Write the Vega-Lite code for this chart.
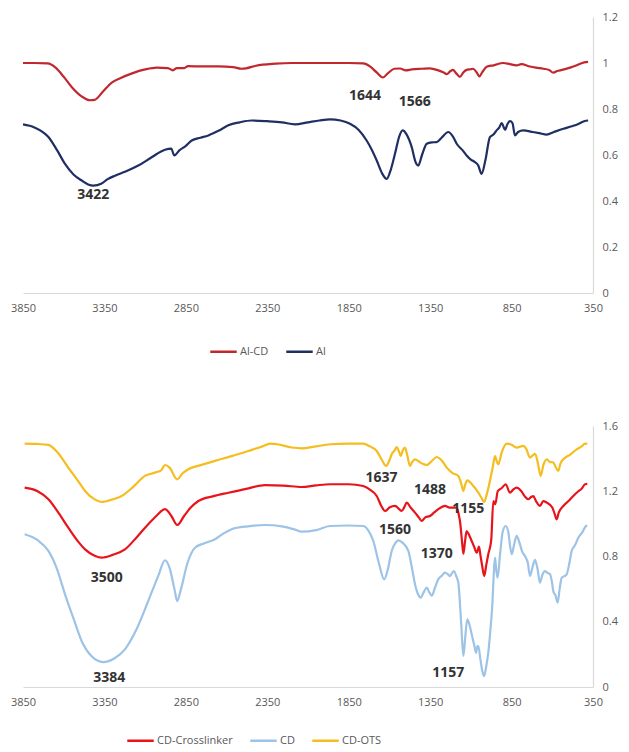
{
  "$schema": "https://vega.github.io/schema/vega-lite/v6.json",
  "background": "white",
  "padding": {"left": 10, "top": 11, "right": 5, "bottom": 5},
  "config": {
    "view": {"stroke": null},
    "font": "Open Sans",
    "axis": {"grid": false, "ticks": false, "domainColor": "#D9D9D9", "domainWidth": 1.2, "labelColor": "#595959", "labelFontSize": 11, "labelFont": "Open Sans", "title": null, "labelFlush": false},
    "legend": {"labelColor": "#595959", "labelFontSize": 11, "labelFont": "Open Sans", "symbolType": "stroke", "symbolSize": 700, "symbolStrokeWidth": 2.5, "columnPadding": 12, "labelOffset": 2}
  },
  "datasets": {
    "top": [
      {"series":"Al-CD","wn":3850,"v":1.0},{"series":"Al-CD","wn":3780,"v":1.0},{"series":"Al-CD","wn":3700,"v":0.998},{"series":"Al-CD","wn":3650,"v":0.98},{"series":"Al-CD","wn":3600,"v":0.94},{"series":"Al-CD","wn":3550,"v":0.895},{"series":"Al-CD","wn":3490,"v":0.855},{"series":"Al-CD","wn":3440,"v":0.838},{"series":"Al-CD","wn":3410,"v":0.84},{"series":"Al-CD","wn":3360,"v":0.875},{"series":"Al-CD","wn":3305,"v":0.915},{"series":"Al-CD","wn":3250,"v":0.935},{"series":"Al-CD","wn":3180,"v":0.955},{"series":"Al-CD","wn":3100,"v":0.972},{"series":"Al-CD","wn":3030,"v":0.98},{"series":"Al-CD","wn":2960,"v":0.978},{"series":"Al-CD","wn":2930,"v":0.968},{"series":"Al-CD","wn":2905,"v":0.978},{"series":"Al-CD","wn":2860,"v":0.978},{"series":"Al-CD","wn":2837,"v":0.986},{"series":"Al-CD","wn":2750,"v":0.985},{"series":"Al-CD","wn":2650,"v":0.985},{"series":"Al-CD","wn":2560,"v":0.982},{"series":"Al-CD","wn":2510,"v":0.975},{"series":"Al-CD","wn":2480,"v":0.977},{"series":"Al-CD","wn":2420,"v":0.988},{"series":"Al-CD","wn":2300,"v":0.997},{"series":"Al-CD","wn":2200,"v":1.0},{"series":"Al-CD","wn":2000,"v":1.0},{"series":"Al-CD","wn":1850,"v":1.0},{"series":"Al-CD","wn":1760,"v":0.998},{"series":"Al-CD","wn":1720,"v":0.985},{"series":"Al-CD","wn":1680,"v":0.96},{"series":"Al-CD","wn":1640,"v":0.937},{"series":"Al-CD","wn":1610,"v":0.955},{"series":"Al-CD","wn":1570,"v":0.975},{"series":"Al-CD","wn":1535,"v":0.976},{"series":"Al-CD","wn":1500,"v":0.968},{"series":"Al-CD","wn":1463,"v":0.972},{"series":"Al-CD","wn":1400,"v":0.975},{"series":"Al-CD","wn":1351,"v":0.977},{"series":"Al-CD","wn":1300,"v":0.968},{"series":"Al-CD","wn":1270,"v":0.96},{"series":"Al-CD","wn":1248,"v":0.952},{"series":"Al-CD","wn":1225,"v":0.965},{"series":"Al-CD","wn":1210,"v":0.97},{"series":"Al-CD","wn":1190,"v":0.955},{"series":"Al-CD","wn":1167,"v":0.94},{"series":"Al-CD","wn":1145,"v":0.96},{"series":"Al-CD","wn":1126,"v":0.97},{"series":"Al-CD","wn":1100,"v":0.973},{"series":"Al-CD","wn":1087,"v":0.975},{"series":"Al-CD","wn":1065,"v":0.96},{"series":"Al-CD","wn":1048,"v":0.942},{"series":"Al-CD","wn":1030,"v":0.96},{"series":"Al-CD","wn":1003,"v":0.984},{"series":"Al-CD","wn":960,"v":0.99},{"series":"Al-CD","wn":901,"v":1.0},{"series":"Al-CD","wn":860,"v":0.995},{"series":"Al-CD","wn":819,"v":0.99},{"series":"Al-CD","wn":790,"v":0.995},{"series":"Al-CD","wn":737,"v":0.985},{"series":"Al-CD","wn":700,"v":0.98},{"series":"Al-CD","wn":655,"v":0.975},{"series":"Al-CD","wn":620,"v":0.97},{"series":"Al-CD","wn":594,"v":0.958},{"series":"Al-CD","wn":570,"v":0.965},{"series":"Al-CD","wn":540,"v":0.97},{"series":"Al-CD","wn":491,"v":0.98},{"series":"Al-CD","wn":450,"v":0.99},{"series":"Al-CD","wn":404,"v":1.003},{"series":"Al-CD","wn":380,"v":1.005},
      {"series":"Al","wn":3850,"v":0.733},{"series":"Al","wn":3780,"v":0.72},{"series":"Al","wn":3694,"v":0.678},{"series":"Al","wn":3640,"v":0.62},{"series":"Al","wn":3592,"v":0.561},{"series":"Al","wn":3540,"v":0.515},{"series":"Al","wn":3490,"v":0.489},{"series":"Al","wn":3450,"v":0.472},{"series":"Al","wn":3418,"v":0.467},{"series":"Al","wn":3370,"v":0.475},{"series":"Al","wn":3330,"v":0.495},{"series":"Al","wn":3285,"v":0.51},{"series":"Al","wn":3220,"v":0.528},{"series":"Al","wn":3142,"v":0.554},{"series":"Al","wn":3060,"v":0.59},{"series":"Al","wn":2978,"v":0.623},{"series":"Al","wn":2940,"v":0.628},{"series":"Al","wn":2921,"v":0.598},{"series":"Al","wn":2890,"v":0.62},{"series":"Al","wn":2850,"v":0.64},{"series":"Al","wn":2814,"v":0.663},{"series":"Al","wn":2760,"v":0.675},{"series":"Al","wn":2712,"v":0.685},{"series":"Al","wn":2650,"v":0.705},{"series":"Al","wn":2589,"v":0.729},{"series":"Al","wn":2520,"v":0.742},{"series":"Al","wn":2446,"v":0.75},{"series":"Al","wn":2350,"v":0.747},{"series":"Al","wn":2260,"v":0.742},{"series":"Al","wn":2180,"v":0.733},{"series":"Al","wn":2100,"v":0.742},{"series":"Al","wn":2030,"v":0.75},{"series":"Al","wn":1965,"v":0.755},{"series":"Al","wn":1900,"v":0.75},{"series":"Al","wn":1842,"v":0.736},{"series":"Al","wn":1790,"v":0.71},{"series":"Al","wn":1740,"v":0.663},{"series":"Al","wn":1710,"v":0.625},{"series":"Al","wn":1678,"v":0.576},{"series":"Al","wn":1645,"v":0.52},{"series":"Al","wn":1617,"v":0.496},{"series":"Al","wn":1590,"v":0.54},{"series":"Al","wn":1566,"v":0.605},{"series":"Al","wn":1540,"v":0.68},{"series":"Al","wn":1519,"v":0.707},{"series":"Al","wn":1495,"v":0.69},{"series":"Al","wn":1463,"v":0.634},{"series":"Al","wn":1440,"v":0.57},{"series":"Al","wn":1423,"v":0.554},{"series":"Al","wn":1400,"v":0.6},{"series":"Al","wn":1371,"v":0.649},{"series":"Al","wn":1340,"v":0.655},{"series":"Al","wn":1310,"v":0.656},{"series":"Al","wn":1280,"v":0.675},{"series":"Al","wn":1239,"v":0.7},{"series":"Al","wn":1210,"v":0.68},{"series":"Al","wn":1187,"v":0.649},{"series":"Al","wn":1150,"v":0.62},{"series":"Al","wn":1126,"v":0.598},{"series":"Al","wn":1100,"v":0.58},{"series":"Al","wn":1075,"v":0.569},{"series":"Al","wn":1055,"v":0.555},{"series":"Al","wn":1034,"v":0.518},{"series":"Al","wn":1010,"v":0.58},{"series":"Al","wn":983,"v":0.678},{"series":"Al","wn":960,"v":0.69},{"series":"Al","wn":942,"v":0.707},{"series":"Al","wn":925,"v":0.72},{"series":"Al","wn":911,"v":0.739},{"series":"Al","wn":890,"v":0.71},{"series":"Al","wn":875,"v":0.735},{"series":"Al","wn":860,"v":0.747},{"series":"Al","wn":845,"v":0.74},{"series":"Al","wn":829,"v":0.685},{"series":"Al","wn":810,"v":0.7},{"series":"Al","wn":778,"v":0.707},{"series":"Al","wn":720,"v":0.7},{"series":"Al","wn":680,"v":0.695},{"series":"Al","wn":634,"v":0.689},{"series":"Al","wn":590,"v":0.7},{"series":"Al","wn":532,"v":0.714},{"series":"Al","wn":480,"v":0.725},{"series":"Al","wn":440,"v":0.735},{"series":"Al","wn":404,"v":0.747},{"series":"Al","wn":380,"v":0.75}
    ],
    "topLabels": [
      {"label":"3422","wn":3418,"v":0.428},
      {"label":"1644","wn":1750,"v":0.855},
      {"label":"1566","wn":1444,"v":0.83}
    ],
    "bottom": [
      {"series":"CD-OTS","wn":3840,"v":1.492},{"series":"CD-OTS","wn":3760,"v":1.49},{"series":"CD-OTS","wn":3694,"v":1.484},{"series":"CD-OTS","wn":3640,"v":1.44},{"series":"CD-OTS","wn":3572,"v":1.345},{"series":"CD-OTS","wn":3510,"v":1.26},{"series":"CD-OTS","wn":3469,"v":1.202},{"series":"CD-OTS","wn":3410,"v":1.15},{"series":"CD-OTS","wn":3367,"v":1.134},{"series":"CD-OTS","wn":3300,"v":1.15},{"series":"CD-OTS","wn":3244,"v":1.171},{"series":"CD-OTS","wn":3170,"v":1.23},{"series":"CD-OTS","wn":3101,"v":1.294},{"series":"CD-OTS","wn":3040,"v":1.314},{"series":"CD-OTS","wn":3000,"v":1.33},{"series":"CD-OTS","wn":2978,"v":1.361},{"series":"CD-OTS","wn":2950,"v":1.345},{"series":"CD-OTS","wn":2903,"v":1.273},{"series":"CD-OTS","wn":2870,"v":1.31},{"series":"CD-OTS","wn":2835,"v":1.335},{"series":"CD-OTS","wn":2760,"v":1.36},{"series":"CD-OTS","wn":2671,"v":1.386},{"series":"CD-OTS","wn":2570,"v":1.415},{"series":"CD-OTS","wn":2467,"v":1.447},{"series":"CD-OTS","wn":2380,"v":1.475},{"series":"CD-OTS","wn":2333,"v":1.492},{"series":"CD-OTS","wn":2290,"v":1.488},{"series":"CD-OTS","wn":2200,"v":1.468},{"series":"CD-OTS","wn":2139,"v":1.463},{"series":"CD-OTS","wn":2050,"v":1.475},{"series":"CD-OTS","wn":1965,"v":1.488},{"series":"CD-OTS","wn":1850,"v":1.492},{"series":"CD-OTS","wn":1761,"v":1.492},{"series":"CD-OTS","wn":1720,"v":1.475},{"series":"CD-OTS","wn":1678,"v":1.447},{"series":"CD-OTS","wn":1645,"v":1.39},{"series":"CD-OTS","wn":1621,"v":1.355},{"series":"CD-OTS","wn":1600,"v":1.39},{"series":"CD-OTS","wn":1586,"v":1.427},{"series":"CD-OTS","wn":1565,"v":1.455},{"series":"CD-OTS","wn":1556,"v":1.471},{"series":"CD-OTS","wn":1540,"v":1.44},{"series":"CD-OTS","wn":1531,"v":1.416},{"series":"CD-OTS","wn":1518,"v":1.45},{"series":"CD-OTS","wn":1505,"v":1.467},{"series":"CD-OTS","wn":1490,"v":1.42},{"series":"CD-OTS","wn":1474,"v":1.355},{"series":"CD-OTS","wn":1460,"v":1.38},{"series":"CD-OTS","wn":1443,"v":1.396},{"series":"CD-OTS","wn":1400,"v":1.37},{"series":"CD-OTS","wn":1371,"v":1.361},{"series":"CD-OTS","wn":1340,"v":1.385},{"series":"CD-OTS","wn":1310,"v":1.41},{"series":"CD-OTS","wn":1280,"v":1.39},{"series":"CD-OTS","wn":1248,"v":1.345},{"series":"CD-OTS","wn":1210,"v":1.31},{"series":"CD-OTS","wn":1177,"v":1.294},{"series":"CD-OTS","wn":1160,"v":1.25},{"series":"CD-OTS","wn":1146,"v":1.202},{"series":"CD-OTS","wn":1135,"v":1.24},{"series":"CD-OTS","wn":1122,"v":1.267},{"series":"CD-OTS","wn":1100,"v":1.25},{"series":"CD-OTS","wn":1085,"v":1.232},{"series":"CD-OTS","wn":1070,"v":1.215},{"series":"CD-OTS","wn":1054,"v":1.191},{"series":"CD-OTS","wn":1035,"v":1.16},{"series":"CD-OTS","wn":1019,"v":1.134},{"series":"CD-OTS","wn":1000,"v":1.19},{"series":"CD-OTS","wn":983,"v":1.263},{"series":"CD-OTS","wn":965,"v":1.35},{"series":"CD-OTS","wn":952,"v":1.416},{"series":"CD-OTS","wn":940,"v":1.38},{"series":"CD-OTS","wn":932,"v":1.365},{"series":"CD-OTS","wn":910,"v":1.44},{"series":"CD-OTS","wn":880,"v":1.492},{"series":"CD-OTS","wn":850,"v":1.485},{"series":"CD-OTS","wn":819,"v":1.467},{"series":"CD-OTS","wn":778,"v":1.478},{"series":"CD-OTS","wn":760,"v":1.46},{"series":"CD-OTS","wn":737,"v":1.406},{"series":"CD-OTS","wn":720,"v":1.42},{"series":"CD-OTS","wn":706,"v":1.43},{"series":"CD-OTS","wn":690,"v":1.38},{"series":"CD-OTS","wn":671,"v":1.294},{"series":"CD-OTS","wn":655,"v":1.36},{"series":"CD-OTS","wn":634,"v":1.396},{"series":"CD-OTS","wn":615,"v":1.38},{"series":"CD-OTS","wn":594,"v":1.376},{"series":"CD-OTS","wn":580,"v":1.35},{"series":"CD-OTS","wn":563,"v":1.325},{"series":"CD-OTS","wn":550,"v":1.37},{"series":"CD-OTS","wn":532,"v":1.396},{"series":"CD-OTS","wn":490,"v":1.425},{"series":"CD-OTS","wn":450,"v":1.457},{"series":"CD-OTS","wn":420,"v":1.475},{"series":"CD-OTS","wn":399,"v":1.492},{"series":"CD-OTS","wn":385,"v":1.49},
      {"series":"CD-Crosslinker","wn":3840,"v":1.222},{"series":"CD-Crosslinker","wn":3760,"v":1.2},{"series":"CD-Crosslinker","wn":3694,"v":1.151},{"series":"CD-Crosslinker","wn":3640,"v":1.08},{"series":"CD-Crosslinker","wn":3572,"v":0.977},{"series":"CD-Crosslinker","wn":3510,"v":0.89},{"series":"CD-Crosslinker","wn":3469,"v":0.844},{"series":"CD-Crosslinker","wn":3410,"v":0.805},{"series":"CD-Crosslinker","wn":3367,"v":0.793},{"series":"CD-Crosslinker","wn":3300,"v":0.81},{"series":"CD-Crosslinker","wn":3224,"v":0.844},{"series":"CD-Crosslinker","wn":3150,"v":0.92},{"series":"CD-Crosslinker","wn":3081,"v":0.998},{"series":"CD-Crosslinker","wn":3030,"v":1.05},{"series":"CD-Crosslinker","wn":2978,"v":1.09},{"series":"CD-Crosslinker","wn":2940,"v":1.05},{"series":"CD-Crosslinker","wn":2903,"v":0.993},{"series":"CD-Crosslinker","wn":2860,"v":1.05},{"series":"CD-Crosslinker","wn":2820,"v":1.1},{"series":"CD-Crosslinker","wn":2773,"v":1.14},{"series":"CD-Crosslinker","wn":2680,"v":1.17},{"series":"CD-Crosslinker","wn":2589,"v":1.191},{"series":"CD-Crosslinker","wn":2480,"v":1.215},{"series":"CD-Crosslinker","wn":2364,"v":1.238},{"series":"CD-Crosslinker","wn":2250,"v":1.235},{"series":"CD-Crosslinker","wn":2139,"v":1.226},{"series":"CD-Crosslinker","wn":2050,"v":1.236},{"series":"CD-Crosslinker","wn":1965,"v":1.243},{"series":"CD-Crosslinker","wn":1850,"v":1.243},{"series":"CD-Crosslinker","wn":1761,"v":1.232},{"series":"CD-Crosslinker","wn":1720,"v":1.21},{"series":"CD-Crosslinker","wn":1678,"v":1.171},{"series":"CD-Crosslinker","wn":1650,"v":1.11},{"series":"CD-Crosslinker","wn":1627,"v":1.079},{"series":"CD-Crosslinker","wn":1600,"v":1.1},{"series":"CD-Crosslinker","wn":1566,"v":1.11},{"series":"CD-Crosslinker","wn":1540,"v":1.09},{"series":"CD-Crosslinker","wn":1525,"v":1.079},{"series":"CD-Crosslinker","wn":1510,"v":1.1},{"series":"CD-Crosslinker","wn":1494,"v":1.13},{"series":"CD-Crosslinker","wn":1470,"v":1.1},{"series":"CD-Crosslinker","wn":1443,"v":1.069},{"series":"CD-Crosslinker","wn":1420,"v":1.04},{"series":"CD-Crosslinker","wn":1402,"v":1.018},{"series":"CD-Crosslinker","wn":1380,"v":1.04},{"series":"CD-Crosslinker","wn":1351,"v":1.048},{"series":"CD-Crosslinker","wn":1325,"v":1.07},{"series":"CD-Crosslinker","wn":1300,"v":1.09},{"series":"CD-Crosslinker","wn":1259,"v":1.11},{"series":"CD-Crosslinker","wn":1230,"v":1.1},{"series":"CD-Crosslinker","wn":1187,"v":1.1},{"series":"CD-Crosslinker","wn":1175,"v":1.06},{"series":"CD-Crosslinker","wn":1167,"v":1.018},{"series":"CD-Crosslinker","wn":1155,"v":0.9},{"series":"CD-Crosslinker","wn":1146,"v":0.817},{"series":"CD-Crosslinker","wn":1135,"v":0.9},{"series":"CD-Crosslinker","wn":1126,"v":0.956},{"series":"CD-Crosslinker","wn":1110,"v":0.93},{"series":"CD-Crosslinker","wn":1095,"v":0.895},{"series":"CD-Crosslinker","wn":1080,"v":0.86},{"series":"CD-Crosslinker","wn":1064,"v":0.823},{"series":"CD-Crosslinker","wn":1050,"v":0.86},{"series":"CD-Crosslinker","wn":1040,"v":0.8},{"series":"CD-Crosslinker","wn":1030,"v":0.74},{"series":"CD-Crosslinker","wn":1018,"v":0.681},{"series":"CD-Crosslinker","wn":1005,"v":0.75},{"series":"CD-Crosslinker","wn":993,"v":0.814},{"series":"CD-Crosslinker","wn":975,"v":0.9},{"series":"CD-Crosslinker","wn":962,"v":1.14},{"series":"CD-Crosslinker","wn":950,"v":1.12},{"series":"CD-Crosslinker","wn":935,"v":1.2},{"series":"CD-Crosslinker","wn":910,"v":1.22},{"series":"CD-Crosslinker","wn":886,"v":1.243},{"series":"CD-Crosslinker","wn":860,"v":1.191},{"series":"CD-Crosslinker","wn":840,"v":1.21},{"series":"CD-Crosslinker","wn":819,"v":1.222},{"series":"CD-Crosslinker","wn":790,"v":1.2},{"series":"CD-Crosslinker","wn":770,"v":1.17},{"series":"CD-Crosslinker","wn":747,"v":1.151},{"series":"CD-Crosslinker","wn":730,"v":1.165},{"series":"CD-Crosslinker","wn":717,"v":1.17},{"series":"CD-Crosslinker","wn":700,"v":1.14},{"series":"CD-Crosslinker","wn":676,"v":1.11},{"series":"CD-Crosslinker","wn":655,"v":1.14},{"series":"CD-Crosslinker","wn":634,"v":1.13},{"series":"CD-Crosslinker","wn":600,"v":1.1},{"series":"CD-Crosslinker","wn":585,"v":1.06},{"series":"CD-Crosslinker","wn":573,"v":1.028},{"series":"CD-Crosslinker","wn":560,"v":1.07},{"series":"CD-Crosslinker","wn":532,"v":1.11},{"series":"CD-Crosslinker","wn":500,"v":1.14},{"series":"CD-Crosslinker","wn":471,"v":1.171},{"series":"CD-Crosslinker","wn":440,"v":1.2},{"series":"CD-Crosslinker","wn":420,"v":1.215},{"series":"CD-Crosslinker","wn":399,"v":1.243},{"series":"CD-Crosslinker","wn":385,"v":1.245},
      {"series":"CD","wn":3840,"v":0.936},{"series":"CD","wn":3760,"v":0.9},{"series":"CD","wn":3694,"v":0.834},{"series":"CD","wn":3640,"v":0.72},{"series":"CD","wn":3592,"v":0.568},{"series":"CD","wn":3540,"v":0.42},{"series":"CD","wn":3490,"v":0.282},{"series":"CD","wn":3430,"v":0.19},{"series":"CD","wn":3357,"v":0.153},{"series":"CD","wn":3290,"v":0.175},{"series":"CD","wn":3224,"v":0.231},{"series":"CD","wn":3150,"v":0.36},{"series":"CD","wn":3081,"v":0.527},{"series":"CD","wn":3020,"v":0.68},{"series":"CD","wn":2978,"v":0.777},{"series":"CD","wn":2950,"v":0.73},{"series":"CD","wn":2920,"v":0.6},{"series":"CD","wn":2903,"v":0.527},{"series":"CD","wn":2880,"v":0.6},{"series":"CD","wn":2840,"v":0.76},{"series":"CD","wn":2794,"v":0.854},{"series":"CD","wn":2740,"v":0.88},{"series":"CD","wn":2671,"v":0.906},{"series":"CD","wn":2620,"v":0.94},{"series":"CD","wn":2569,"v":0.967},{"series":"CD","wn":2470,"v":0.985},{"series":"CD","wn":2364,"v":0.993},{"series":"CD","wn":2260,"v":0.985},{"series":"CD","wn":2180,"v":0.965},{"series":"CD","wn":2139,"v":0.952},{"series":"CD","wn":2050,"v":0.962},{"series":"CD","wn":1965,"v":0.987},{"series":"CD","wn":1850,"v":0.99},{"series":"CD","wn":1761,"v":0.987},{"series":"CD","wn":1730,"v":0.96},{"series":"CD","wn":1699,"v":0.895},{"series":"CD","wn":1665,"v":0.76},{"series":"CD","wn":1632,"v":0.66},{"series":"CD","wn":1610,"v":0.72},{"series":"CD","wn":1586,"v":0.834},{"series":"CD","wn":1565,"v":0.88},{"series":"CD","wn":1546,"v":0.899},{"series":"CD","wn":1520,"v":0.885},{"series":"CD","wn":1484,"v":0.834},{"series":"CD","wn":1460,"v":0.72},{"series":"CD","wn":1443,"v":0.63},{"series":"CD","wn":1420,"v":0.56},{"series":"CD","wn":1408,"v":0.548},{"series":"CD","wn":1390,"v":0.58},{"series":"CD","wn":1371,"v":0.609},{"series":"CD","wn":1355,"v":0.58},{"series":"CD","wn":1340,"v":0.56},{"series":"CD","wn":1320,"v":0.61},{"series":"CD","wn":1300,"v":0.66},{"series":"CD","wn":1280,"v":0.68},{"series":"CD","wn":1259,"v":0.701},{"series":"CD","wn":1240,"v":0.69},{"series":"CD","wn":1228,"v":0.68},{"series":"CD","wn":1215,"v":0.7},{"series":"CD","wn":1204,"v":0.711},{"series":"CD","wn":1190,"v":0.68},{"series":"CD","wn":1177,"v":0.639},{"series":"CD","wn":1160,"v":0.4},{"series":"CD","wn":1146,"v":0.19},{"series":"CD","wn":1135,"v":0.3},{"series":"CD","wn":1122,"v":0.415},{"series":"CD","wn":1108,"v":0.38},{"series":"CD","wn":1095,"v":0.323},{"series":"CD","wn":1080,"v":0.26},{"series":"CD","wn":1068,"v":0.21},{"series":"CD","wn":1060,"v":0.25},{"series":"CD","wn":1054,"v":0.25},{"series":"CD","wn":1040,"v":0.16},{"series":"CD","wn":1030,"v":0.1},{"series":"CD","wn":1019,"v":0.067},{"series":"CD","wn":1005,"v":0.13},{"series":"CD","wn":993,"v":0.21},{"series":"CD","wn":980,"v":0.35},{"series":"CD","wn":968,"v":0.507},{"series":"CD","wn":960,"v":0.68},{"series":"CD","wn":952,"v":0.793},{"series":"CD","wn":944,"v":0.72},{"series":"CD","wn":936,"v":0.67},{"series":"CD","wn":920,"v":0.82},{"series":"CD","wn":905,"v":0.95},{"series":"CD","wn":886,"v":0.987},{"series":"CD","wn":870,"v":0.95},{"series":"CD","wn":860,"v":0.87},{"series":"CD","wn":849,"v":0.814},{"series":"CD","wn":835,"v":0.87},{"series":"CD","wn":819,"v":0.926},{"series":"CD","wn":800,"v":0.88},{"series":"CD","wn":785,"v":0.83},{"series":"CD","wn":768,"v":0.803},{"series":"CD","wn":750,"v":0.76},{"series":"CD","wn":737,"v":0.681},{"series":"CD","wn":720,"v":0.74},{"series":"CD","wn":706,"v":0.78},{"series":"CD","wn":690,"v":0.72},{"series":"CD","wn":676,"v":0.639},{"series":"CD","wn":660,"v":0.69},{"series":"CD","wn":645,"v":0.71},{"series":"CD","wn":630,"v":0.7},{"series":"CD","wn":614,"v":0.691},{"series":"CD","wn":600,"v":0.63},{"series":"CD","wn":594,"v":0.589},{"series":"CD","wn":580,"v":0.56},{"series":"CD","wn":567,"v":0.517},{"series":"CD","wn":555,"v":0.6},{"series":"CD","wn":542,"v":0.67},{"series":"CD","wn":525,"v":0.68},{"series":"CD","wn":512,"v":0.69},{"series":"CD","wn":495,"v":0.76},{"series":"CD","wn":481,"v":0.834},{"series":"CD","wn":460,"v":0.87},{"series":"CD","wn":440,"v":0.915},{"series":"CD","wn":415,"v":0.95},{"series":"CD","wn":393,"v":0.987},{"series":"CD","wn":385,"v":0.99}
    ],
    "bottomLabels": [
      {"label":"1637","wn":1648,"v":1.283},
      {"label":"1488","wn":1351,"v":1.208},
      {"label":"1155","wn":1116,"v":1.09},
      {"label":"1560","wn":1566,"v":0.961},
      {"label":"1370","wn":1310,"v":0.814},
      {"label":"1157","wn":1239,"v":0.088},
      {"label":"3500","wn":3336,"v":0.666},
      {"label":"3384","wn":3320,"v":0.057}
    ]
  },
  "vconcat": [
    {
      "width": 570,
      "height": 276,
      "layer": [
        {
          "data": {"name": "top"},
          "mark": {"type": "line", "strokeWidth": 2.2, "interpolate": "monotone"},
          "encoding": {
            "x": {"field": "wn", "type": "quantitative", "scale": {"domain": [350, 3850], "reverse": true, "nice": false, "zero": false}, "axis": {"values": [350, 850, 1350, 1850, 2350, 2850, 3350, 3850], "labelPadding": 9, "format": "d"}},
            "y": {"field": "v", "type": "quantitative", "scale": {"domain": [0, 1.2], "nice": false}, "axis": {"orient": "right", "values": [0, 0.2, 0.4, 0.6, 0.8, 1, 1.2], "labelPadding": 9, "format": "~g"}},
            "color": {"field": "series", "type": "nominal", "scale": {"domain": ["Al-CD", "Al"], "range": ["#C0282D", "#1F2F63"]}, "legend": {"title": null, "orient": "none", "direction": "horizontal", "legendX": 186, "legendY": 320}}
          }
        },
        {
          "data": {"name": "topLabels"},
          "mark": {"type": "text", "fontSize": 14, "fontWeight": "bold", "color": "#333333", "align": "center", "baseline": "middle"},
          "encoding": {
            "x": {"field": "wn", "type": "quantitative"},
            "y": {"field": "v", "type": "quantitative"},
            "text": {"field": "label", "type": "nominal"}
          }
        }
      ]
    },
    {
      "width": 570,
      "height": 261,
      "layer": [
        {
          "data": {"name": "bottom"},
          "mark": {"type": "line", "strokeWidth": 2.2, "interpolate": "monotone"},
          "encoding": {
            "x": {"field": "wn", "type": "quantitative", "scale": {"domain": [350, 3850], "reverse": true, "nice": false, "zero": false}, "axis": {"values": [350, 850, 1350, 1850, 2350, 2850, 3350, 3850], "labelPadding": 9, "format": "d"}},
            "y": {"field": "v", "type": "quantitative", "scale": {"domain": [0, 1.6], "nice": false}, "axis": {"orient": "right", "values": [0, 0.2, 0.4, 0.6, 0.8, 1, 1.2, 1.4, 1.6], "labelPadding": 9, "format": "~g"}},
            "color": {"field": "series", "type": "nominal", "scale": {"domain": ["CD-Crosslinker", "CD", "CD-OTS"], "range": ["#E8141B", "#9DC3E6", "#F5BD1F"]}, "legend": {"title": null, "orient": "none", "direction": "horizontal", "legendX": 103, "legendY": 300}}
          }
        },
        {
          "data": {"name": "bottomLabels"},
          "mark": {"type": "text", "fontSize": 14, "fontWeight": "bold", "color": "#333333", "align": "center", "baseline": "middle"},
          "encoding": {
            "x": {"field": "wn", "type": "quantitative"},
            "y": {"field": "v", "type": "quantitative"},
            "text": {"field": "label", "type": "nominal"}
          }
        }
      ]
    }
  ],
  "spacing": 63,
  "resolve": {"scale": {"color": "independent", "x": "independent", "y": "independent"}, "legend": {"color": "independent"}}
}
